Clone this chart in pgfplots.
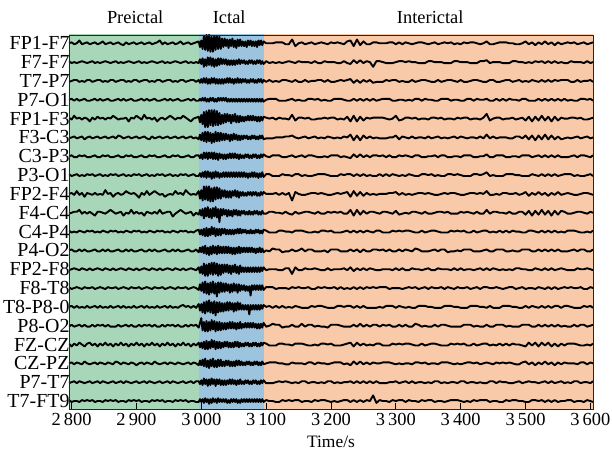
\documentclass[border=0pt]{standalone}
\usepackage{pgfplots}
\pgfplotsset{compat=1.18}
\usepackage{pgfplotstable}
\usepackage{fontspec}
\setmainfont{Liberation Serif}
\definecolor{preC}{RGB}{168,214,184}
\definecolor{ictC}{RGB}{157,196,222}
\definecolor{intC}{RGB}{248,202,170}

\pgfplotstableread{
t c1 c2 c3 c4 c5 c6 c7 c8 c9 c10 c11 c12 c13 c14 c15 c16 c17 c18 c19 c20
2796 0 1 -1 0 1 -1 0 1 0 -1 1 0 -1 1 0 -1 1 0 -1 1
2800 1 -1 0 1 -1 0 1 -1 1 0 -1 1 0 -1 1 1 -2 1 0 -1
2804 -1 0 1 -1 3 1 -1 0 -1 1 0 -1 1 0 -1 -1 1 -1 1 0
2808 0 -1 1 1 0 -1 -1 1 3 1 -1 -1 0 1 1 0 -1 1 -1 0
2812 3 0 -1 -1 1 0 1 -1 -1 3 1 1 -1 0 -1 1 2 0 1 -1
2816 -1 1 0 0 -1 1 0 0 1 -1 0 -1 1 -1 0 -1 0 -1 0 1
2820 0 0 -1 1 1 -2 1 -1 -3 1 -1 1 0 1 -1 1 -2 2 -1 0
2824 1 -1 1 -1 0 0 -1 1 1 -1 1 -1 -1 0 1 -1 1 0 0 1
2828 -1 0 1 -1 -3 1 -1 0 0 1 0 -1 1 0 -1 -1 2 -1 1 0
2832 0 1 -1 0 1 -1 0 1 -1 -1 1 0 -1 1 0 1 -1 0 -1 1
2836 1 -1 0 1 -1 0 1 -1 1 -3 -1 1 0 -1 1 -1 1 1 0 -1
2840 -1 0 1 -1 2 1 -1 0 -1 1 0 -1 1 0 -1 1 -2 -1 1 0
2844 0 -1 1 1 0 -1 -1 1 0 1 -1 -1 0 1 1 0 1 1 -1 0
2848 2 0 -1 -1 1 0 1 -1 -1 0 1 1 -1 0 -1 1 -1 0 1 -1
2852 -1 1 0 0 -1 1 0 0 4 -1 0 -1 1 -1 0 -1 2 -1 0 1
2856 0 0 -1 1 1 -1 1 -1 0 1 -1 1 0 1 -1 1 -1 1 -1 0
2860 1 -1 1 -1 0 0 -1 1 1 3 1 -1 -1 0 1 -1 1 0 0 1
2864 -1 0 1 -1 3 1 -1 0 -3 1 0 -1 1 0 -1 -1 -2 -1 1 0
2868 0 1 -1 0 1 -1 0 1 0 -1 1 0 -1 1 0 -1 1 2 -1 1
2872 1 -1 0 1 -1 2 1 -1 1 0 -1 1 0 -1 1 1 -1 1 0 -1
2876 -1 0 1 -1 0 1 -1 0 -1 1 0 -1 1 0 -1 -1 2 -1 1 0
2880 -2 -1 1 1 0 -1 -1 1 0 -3 -1 -1 0 1 1 0 -1 1 -1 0
2884 1 0 -1 -1 1 0 1 -1 3 0 1 1 -1 0 -1 1 1 0 1 -1
2888 -1 1 0 0 -3 1 0 0 1 -1 0 -1 1 -1 0 -1 -2 -1 0 1
2892 0 0 -1 1 1 -1 1 -1 0 3 -1 1 0 1 -1 1 1 1 -1 0
2896 1 -1 1 -1 0 0 -1 1 1 -1 1 -1 -1 0 1 -1 -1 0 0 1
2900 -1 0 1 -1 3 1 -1 0 -1 1 0 -1 1 0 -1 -1 2 -2 1 0
2904 0 1 -1 0 1 -1 0 1 -4 -1 1 0 -1 1 0 1 -1 0 -1 1
2908 1 -1 0 1 -1 0 1 -1 1 0 -1 1 0 -1 1 -1 1 1 0 -1
2912 -1 0 1 -1 4 1 -1 0 -1 -3 0 -1 1 0 -1 1 -2 -1 1 0
2916 0 -1 1 1 0 -1 -1 1 3 1 -1 -1 0 1 1 0 1 1 -1 0
2920 1 0 -1 -1 1 -2 1 -1 -1 0 1 1 -1 0 -1 1 -1 0 1 -1
2924 -1 1 0 0 -1 1 0 0 1 -1 0 -1 1 -1 0 -1 2 -1 0 1
2928 0 0 -1 1 1 -1 1 -1 3 1 -1 1 0 1 -1 1 -1 2 -1 0
2932 1 -1 1 -1 -3 0 -1 1 1 -1 1 -1 -1 0 1 -1 1 0 0 1
2936 3 0 1 -1 0 1 -1 0 -1 3 0 -1 1 0 -1 -1 -2 -1 1 0
2940 -1 1 -1 0 1 -1 0 1 0 -1 1 0 -1 1 0 1 1 0 -1 1
2944 1 -1 0 1 -1 0 1 -1 -3 0 -1 1 0 -1 1 -1 -1 1 0 -1
2948 -1 0 1 -1 1 1 -1 0 -1 1 0 -1 1 0 -1 1 2 -1 1 0
2952 0 -1 1 1 3 -1 -1 1 0 1 -1 -1 0 1 1 0 -1 1 -1 0
2956 1 0 -1 -1 1 0 1 -1 -1 -4 1 1 -1 0 -1 1 1 0 1 -1
2960 -1 1 0 0 -1 1 0 0 3 -1 0 -1 1 -1 0 -1 -2 -1 0 1
2964 0 0 -1 1 1 -1 1 -1 0 1 -1 1 0 1 -1 1 1 1 -1 0
2968 2 -1 1 -1 0 0 -1 1 1 3 1 -1 -1 0 1 -1 -1 0 0 1
2972 -1 0 1 -1 3 1 -1 0 -1 1 0 -1 1 0 2 -1 2 -1 1 0
2976 0 1 -1 0 1 -1 0 1 4 -1 1 0 -1 1 0 1 -1 0 -1 1
2980 1 -1 0 1 -1 0 1 -1 1 0 -1 1 0 -1 1 -1 1 1 0 -1
2984 -1 0 1 -1 -3 1 -1 0 -1 1 0 -1 1 0 -1 1 -2 -1 1 0
2988 0 -1 1 1 0 -1 -1 1 0 -3 -1 -1 0 1 1 0 1 1 -1 0
2992 1 0 -1 -1 1 0 1 -1 -1 0 1 1 -1 0 -1 1 -1 0 1 -1
2996 2 -1 1 -1 2 -2 1 -1 3 -2 2 -2 2 -2 3 -2 2 -2 1 -1
2998 -4 3 -2 1 -4 3 -2 2 -5 3 -3 3 -4 4 -4 3 -3 3 -2 2
3000 3 -2 2 -1 4 -3 2 -2 4 -3 2 -2 3 -3 3 8 2 -2 2 -1
3002 -6 4 -2 2 -6 5 -3 3 -7 4 -4 4 -5 6 -6 -5 -4 4 -3 2
3004 8 -5 3 -1 7 -4 4 -2 8 -6 3 -3 6 -5 5 4 3 -3 4 -2
3006 -7 3 -2 2 -9 6 -2 4 -6 5 -5 5 -7 7 -7 -6 -5 5 -2 3
3008 9 -4 3 -2 8 -5 4 -3 8 -4 4 -4 5 -6 6 5 4 -4 3 -1
3010 -8 5 -3 1 -9 6 -3 4 -7 6 -5 3 -7 5 -5 -6 -5 3 -4 2
3012 9 -3 2 -2 9 -4 4 -2 8 -5 3 -5 6 -7 7 4 3 -5 3 -3
3014 -9 5 -3 2 -7 5 -2 3 -8 4 -4 4 -5 6 -6 -5 -4 4 -3 2
3016 7 -4 3 -1 9 -6 4 -4 6 -6 5 -4 7 -5 5 6 5 -3 4 -2
3018 -9 4 -2 2 -8 4 -3 3 -8 5 -3 5 -6 7 -7 -4 -3 5 -2 3
3020 8 -5 3 -2 9 -5 4 -3 7 -4 4 -3 7 -6 6 5 4 -4 3 -1
3022 -7 3 -3 1 -7 6 -3 4 -6 6 -5 4 -5 5 -9 -6 -5 3 -4 2
3024 8 -4 2 -2 8 -4 3 -2 7 -5 3 -4 6 -9 5 4 3 -4 3 -2
3026 -6 4 -3 2 -7 5 -4 3 -5 4 -4 5 -7 6 -6 -5 -4 4 -2 3
3028 7 -3 2 -1 6 -4 3 -3 6 -10 3 -3 5 -5 5 4 3 -3 3 -1
3030 -6 4 -3 2 -6 5 -2 2 -5 4 -4 4 -6 6 -5 -5 -4 4 -3 2
3032 5 -2 2 -1 4 -3 2 -2 4 -3 3 -3 5 -4 4 3 2 -3 2 -1
3034 -4 3 -3 2 -5 4 -3 3 -3 4 -2 4 -4 5 -5 -4 -3 2 -3 2
3036 5 -2 2 -1 5 -3 2 -2 4 -2 3 -3 5 -4 4 3 3 -3 2 -1
3038 -3 3 -2 2 -4 4 -3 3 -4 3 -3 4 -3 5 -4 -4 -2 3 -3 2
3040 4 -3 3 -2 5 -2 2 -2 3 -4 2 -3 5 -3 5 3 3 -2 2 -2
3042 -5 2 -2 1 -3 3 -2 3 -4 3 -3 4 -4 4 -4 -3 -3 3 -2 1
3044 4 -3 3 -2 4 -4 3 -2 3 -3 2 -3 4 -5 5 4 2 -3 3 -2
3046 -3 2 -2 1 -5 3 -2 3 -4 2 -3 3 -5 4 -3 -3 -3 2 -2 2
3048 5 -3 2 -2 4 -3 3 -2 3 -4 2 -4 4 -4 4 4 2 -3 3 -1
3050 -4 2 -3 1 -3 4 -2 3 -2 3 -3 3 -3 5 -5 -3 -3 2 -2 2
3052 3 -3 2 -2 5 -2 3 -2 4 -2 2 -4 5 -3 4 3 3 -3 2 -1
3054 -5 2 -2 1 -4 3 -2 3 -3 3 -2 3 -4 4 -4 -4 -2 3 -3 2
3056 4 -2 3 -2 3 -3 2 -2 3 -3 3 -3 3 -5 5 3 3 -2 2 -2
3058 -3 3 -2 1 -4 2 -3 3 -4 2 -2 4 -5 4 -3 -3 -3 3 -2 1
3060 4 -2 2 -2 3 -3 2 -2 2 -3 3 -3 4 -3 4 4 2 -2 3 -2
3062 -3 2 -2 1 -3 2 -2 3 -2 2 -2 3 -3 3 -3 -3 -2 2 -2 2
3064 2 -1 2 -2 2 -2 1 -2 2 -1 2 -2 2 -2 2 2 1 -2 1 -1
3066 -3 2 -1 1 -3 2 -2 3 -2 2 -1 3 -3 3 -3 -2 -2 1 -2 2
3068 2 -2 2 -2 2 -1 2 -2 1 -2 2 -2 2 -3 2 3 2 -2 2 -1
3070 -4 1 -2 1 -2 2 -1 2 -2 1 -2 3 -3 2 -3 -2 -1 2 -1 2
3072 3 -2 1 -2 3 -2 2 -3 2 -2 1 -2 2 -3 2 3 2 -1 2 -1
3074 -2 2 -2 1 -2 1 -2 2 -1 2 -2 3 -3 2 -8 -2 -2 2 -2 2
3076 3 -1 2 -2 3 -2 1 -2 2 -2 2 -2 2 -8 2 3 1 -2 1 -1
3078 -3 2 -1 1 -2 2 -2 3 -2 1 -2 3 -3 3 -3 -2 -2 1 -2 2
3080 2 -2 2 -2 3 -1 2 -2 2 -2 1 -2 2 -2 2 3 2 -2 2 -1
3082 -3 1 -2 1 -2 2 -1 3 -1 2 -2 2 -3 3 -3 -2 -1 2 -1 2
3084 2 -2 1 -2 2 -2 2 -2 2 -1 2 -3 2 -2 2 2 2 -1 2 -1
3086 -4 2 -2 1 -3 1 -2 2 -2 2 -1 2 -3 3 -3 -3 -2 2 -2 2
3088 3 -1 2 -2 2 -2 1 -3 1 -2 2 -2 2 -2 2 2 1 -2 1 -1
3090 -2 2 -1 1 -3 2 -2 2 -2 1 -2 3 -3 3 -3 -3 -2 1 -2 2
3092 3 -2 2 -2 2 -1 2 -2 2 -2 1 -2 2 -2 2 2 2 -2 2 -1
3094 -2 1 -2 1 -2 2 -1 3 -1 2 -2 2 -2 3 -2 -2 -1 2 -1 2
3096 2 -2 1 -2 2 -2 2 -2 2 -1 2 -2 2 -2 2 3 2 -1 2 -1
3100 0 1 -1 0 1 -1 0 1 0 -1 1 0 -1 1 0 -1 1 0 -1 1
3105 0 -1 1 1 0 -1 -1 1 0 1 -1 -1 0 1 1 0 -1 1 -1 0
3110 0 0 -1 1 1 -1 1 -1 0 1 -1 2 0 1 -1 2 -1 1 -1 0
3115 1 -1 0 1 -1 0 1 -1 1 0 -1 1 0 -1 1 1 -1 1 0 -1
3120 1 0 -1 -1 1 0 1 -1 -1 0 1 1 -1 0 -1 1 1 0 1 -1
3125 1 -1 1 -1 0 0 -1 1 1 -1 1 -2 -1 0 1 -2 1 0 0 1
3130 -1 0 1 -1 0 1 -1 0 -1 1 0 -1 1 0 -1 -1 0 -1 1 0
3135 -1 1 0 0 -1 1 0 0 1 -1 0 -1 1 -1 0 -1 0 -1 0 1
3140 4 0 -1 1 4 2 1 -1 -7 -2 -1 1 -5 1 -1 1 -1 1 -1 0
3145 -3 -1 1 -1 -2 0 -1 1 2 1 1 -1 2 0 1 -1 1 0 0 1
3150 0 1 -1 0 1 -1 0 1 0 -1 1 0 -1 1 0 -1 1 0 -1 1
3155 1 0 -1 -1 1 0 1 -1 -1 0 1 2 -1 0 -1 2 1 0 1 -1
3160 -1 0 1 -1 0 1 -1 0 -1 1 0 -1 1 0 -1 -1 0 -1 1 0
3165 0 0 -1 1 1 -1 1 -1 0 1 -1 1 0 1 -1 1 -1 1 -1 0
3170 1 -1 0 1 -1 0 1 -1 1 0 -1 1 0 -1 1 1 -1 1 0 -1
3175 -1 1 0 0 -1 1 0 0 1 -1 0 -1 1 -1 0 -1 0 -1 0 1
3180 0 -1 1 1 0 -1 -1 1 0 1 -1 -1 0 1 1 0 -1 1 -1 0
3185 1 -1 1 -1 0 0 -1 1 1 -1 1 -1 -1 0 1 -1 1 0 0 1
3190 0 1 -1 0 1 -1 0 1 0 -1 1 0 -1 1 0 -1 1 0 -1 1
3195 -1 0 1 -1 0 1 -1 0 -1 1 0 -2 1 0 -1 -2 0 -1 1 0
3200 1 0 -1 -1 1 0 1 -1 -1 0 1 1 -1 0 -1 1 1 0 1 -1
3205 0 0 -1 1 1 -1 1 -1 0 1 -1 1 0 1 -1 1 -1 1 -1 0
3210 1 -1 0 1 -1 0 1 -1 1 0 -1 1 0 -1 1 1 -1 1 0 -1
3215 0 -1 1 1 0 -1 -1 1 0 1 -1 -1 0 1 1 0 -1 1 -1 0
3220 -1 1 0 0 -1 1 0 0 1 -1 0 -1 1 -1 0 -1 0 -1 0 1
3225 2 -1 1 -1 2 0 -1 1 2 -1 1 -1 -1 0 1 -1 1 0 0 1
3230 3 -2 2 -1 -3 3 -2 1 -3 3 -1 1 2 -1 1 -1 2 -2 1 -1
3235 -3 2 -2 1 3 -3 2 -1 3 -3 1 -1 -2 1 -1 1 -2 2 -1 1
3240 4 -1 1 -1 -3 2 -1 1 -2 3 -1 1 1 -1 1 -1 2 -1 1 -1
3245 -2 2 -2 1 2 -3 2 -1 2 -2 1 -2 -1 1 -1 2 -1 2 -1 1
3250 2 -1 1 -1 -2 2 -1 1 -2 2 -1 1 1 -1 1 -1 1 -1 1 -1
3255 -1 1 -1 1 1 -1 1 -1 1 -1 1 -1 -1 1 -1 1 -1 1 -1 1
3260 -1 0 1 -1 0 1 -1 0 -1 1 0 -1 1 0 -1 -1 0 -1 1 0
3265 1 -5 -2 1 1 -1 1 -1 0 1 -1 1 0 1 -1 1 -1 1 -1 6
3270 1 1 -1 -1 1 0 1 -1 -1 0 1 1 -1 0 -1 1 1 0 1 -2
3275 0 1 -1 0 1 -1 0 1 0 -1 1 0 -1 1 0 -1 1 0 -1 1
3280 0 0 -1 1 1 -1 1 -1 0 1 -1 1 0 1 -1 1 -1 1 -1 0
3285 0 -1 1 1 0 -1 -1 1 0 1 -1 -1 0 1 1 0 -1 1 -1 0
3290 1 -1 0 1 -1 0 1 -1 1 0 -1 1 0 -1 1 1 -1 1 0 -1
3295 1 -1 1 -1 0 0 -1 1 1 -1 1 -1 -1 0 1 -1 1 0 0 1
3300 -1 0 1 -1 3 2 -1 0 2 2 0 -1 1 0 -1 -1 0 -1 1 0
3305 1 1 -1 0 -2 -2 1 -1 -1 -2 1 1 -1 0 1 1 1 0 -1 1
3310 -1 1 0 0 -1 1 0 0 1 -1 0 -1 1 -1 0 -1 0 -1 0 1
3315 1 0 -1 -1 1 0 1 -1 -1 0 1 1 -1 0 -1 1 1 0 1 -1
3320 0 1 -1 0 1 -1 0 1 0 -1 1 0 -1 1 0 -1 1 0 -1 1
3325 -1 0 1 -1 0 1 -1 0 -1 1 0 -1 1 0 -1 -1 0 -1 1 0
3330 0 0 -1 1 1 -1 1 -1 0 1 -1 2 0 1 -1 2 -1 1 -1 0
3335 1 -1 0 1 -1 0 1 -1 1 0 -1 1 0 -1 1 1 -1 1 0 -1
3340 1 -1 1 -1 0 0 -1 1 1 -1 1 -1 -1 0 1 -1 1 0 0 1
3345 0 -1 1 1 0 -1 -1 1 0 1 -1 -1 0 1 1 0 -1 1 -1 0
3350 -1 1 0 0 -1 1 0 0 1 -1 0 -1 1 -1 0 -1 0 -1 0 1
3355 0 1 -1 0 1 -1 0 1 0 -1 1 0 -1 1 0 -1 1 0 -1 1
3360 1 0 -1 -1 1 0 1 -1 -1 0 1 1 -1 0 -1 1 1 0 1 -1
3365 -1 0 1 -1 0 1 -1 0 -1 1 0 -1 1 0 -1 -1 0 -1 1 0
3370 0 0 -1 1 1 -1 1 -1 0 1 -1 1 0 1 -1 1 -1 1 -1 0
3375 1 -1 0 1 -1 0 1 -1 1 0 -1 1 0 -1 1 1 -1 1 0 -1
3380 0 -1 1 1 0 -1 -1 1 0 1 -1 -2 0 1 1 0 -1 1 -1 0
3385 1 -1 1 -1 0 0 -1 1 1 -1 1 -1 -1 0 1 -1 1 0 0 1
3390 -1 1 0 0 -1 1 0 0 1 -1 0 -1 1 -1 0 -1 0 -1 0 1
3395 0 1 -1 0 1 -1 0 1 0 -1 1 0 -1 1 0 -1 1 0 -1 1
3400 -1 0 1 -1 0 1 -1 0 -1 1 0 -1 1 0 -1 -1 0 -1 1 0
3405 1 0 -1 -1 1 0 1 -1 -1 0 1 1 -1 0 -1 1 1 0 1 -1
3410 0 0 -1 1 1 -1 1 -1 0 1 -1 1 0 1 -1 1 -1 1 -1 0
3415 1 -1 0 1 -1 0 1 -1 1 0 -1 1 0 -1 1 1 -1 1 0 -1
3420 1 -1 1 -1 0 0 -1 1 1 -1 1 -1 -1 0 1 -1 1 0 0 1
3425 0 -1 1 1 0 -1 -1 1 0 1 -1 -1 0 1 1 0 -1 1 -1 0
3430 -1 1 0 0 -1 1 0 0 1 -1 0 -1 1 -1 0 -1 0 -1 0 1
3435 0 1 -1 0 1 -1 0 1 0 -1 1 0 -1 1 0 -1 1 0 -1 1
3440 2 2 -1 1 5 3 2 3 3 3 1 1 1 1 -1 1 1 1 -1 1
3445 -1 -1 1 -1 -2 -1 -1 -1 -1 -1 -1 -1 -1 0 1 -1 -1 0 1 -1
3450 -1 0 1 -1 0 1 -1 0 -1 1 0 -1 1 0 -1 -1 0 -1 1 0
3455 0 0 -1 1 1 -1 1 -1 0 1 -1 1 0 1 -1 1 -1 1 -1 0
3460 1 0 -1 -1 1 0 1 -1 -1 0 1 1 -1 0 -1 1 1 0 1 -1
3465 1 -1 0 1 -1 0 1 -1 1 0 -1 1 0 -1 1 1 -1 1 0 -1
3470 1 -1 1 -1 0 0 -1 1 1 -1 1 -1 -1 0 1 -1 1 0 0 1
3475 0 -1 1 1 0 -1 -1 1 0 1 -1 -1 0 1 1 0 -1 1 -1 0
3480 0 1 -1 0 1 -1 0 1 0 -1 1 0 -1 1 0 -1 1 0 -1 1
3485 -1 1 0 0 -1 1 0 0 1 -1 0 -1 1 -1 0 -1 0 -1 0 1
3490 -1 0 1 -1 0 1 -1 0 -1 1 0 -1 1 0 -1 -1 0 -1 1 0
3495 0 0 -1 1 1 -1 1 -1 0 1 -1 1 0 1 -1 1 -1 1 -1 0
3500 2 -1 0 1 -2 2 1 -1 2 -2 -1 1 0 -1 1 1 -2 2 0 -1
3505 -1 0 -1 -1 2 -2 1 -1 -2 2 1 1 -1 0 -1 1 2 -1 1 -1
3510 1 -1 1 -1 -3 2 -1 1 1 -3 1 -1 -1 0 1 -1 -1 1 0 1
3515 -2 1 0 -1 2 -3 0 0 -1 2 0 -1 1 -1 0 -1 2 -2 0 1
3520 1 0 -1 1 -2 2 1 -1 2 -2 -1 1 0 1 -1 1 -2 1 -1 0
3525 -1 1 1 -1 3 -2 -1 1 -1 3 1 -1 -1 0 1 -1 2 -1 0 1
3530 2 -1 -1 1 -2 3 1 -1 1 -2 -1 1 1 -1 -1 1 -1 2 1 -1
3535 -1 1 1 -1 2 -2 -1 1 -2 2 1 -1 -1 1 1 -1 2 -1 -1 1
3540 1 -1 -1 1 -3 2 1 -1 1 -3 -1 1 1 -1 -1 1 -2 1 1 -1
3545 -2 1 1 -1 2 -2 -1 1 -1 2 1 -1 -1 1 1 -1 1 -2 -1 1
3550 1 -1 0 1 -2 1 1 -1 2 -2 -1 1 0 -1 1 1 -2 1 0 -1
3555 -1 0 1 -1 1 -2 -1 0 -1 2 0 -1 1 0 -1 -1 1 -1 1 0
3560 0 -1 1 1 0 -1 -1 1 0 1 -1 -1 0 1 1 0 -1 1 -1 0
3565 1 -1 1 -1 0 0 -1 1 1 -1 1 -1 -1 0 1 -1 1 0 0 1
3570 0 1 -1 0 1 -1 0 1 0 -1 1 0 -1 1 0 -1 1 0 -1 1
3575 1 0 -1 -1 1 0 1 -1 -1 0 1 1 -1 0 -1 1 1 0 1 -1
3580 -1 0 1 -1 0 1 -1 0 -1 1 0 -1 1 0 -1 -1 0 -1 1 0
3585 0 0 -1 1 1 -1 1 -1 0 1 -1 1 0 1 -1 1 -1 1 -1 0
3590 1 -1 0 1 -1 0 1 -1 1 0 -1 1 0 -1 1 1 -1 1 0 -1
3595 -1 1 0 0 -1 1 0 0 1 -1 0 -1 1 -1 0 -1 0 -1 0 1
3600 0 -1 1 1 0 -1 -1 1 0 1 -1 -1 0 1 1 0 -1 1 -1 0
3604 1 0 -1 -1 1 0 1 -1 -1 0 1 1 -1 0 -1 1 1 0 1 -1
}\eeg

\begin{document}
\begin{tikzpicture}
\begin{axis}[
  at={(0,0)}, anchor=south west,
  scale only axis, width=524bp, height=374.5bp,
  xmin=2796, xmax=3604, ymin=0.55, ymax=20.44,
  clip mode=individual, axis on top,
  xtick={2800,2900,...,3600}, xtick pos=left, tick align=inside,
  major tick length=6bp,
  ytick={1,...,20}, ytick style={draw=none}, ytick pos=left,
  yticklabels={T7-FT9,P7-T7,CZ-PZ,FZ-CZ,P8-O2,T8-P8-0,F8-T8,FP2-F8,P4-O2,C4-P4,F4-C4,FP2-F4,P3-O1,C3-P3,F3-C3,FP1-F3,P7-O1,T7-P7,F7-F7,FP1-F7},
  /pgf/number format/assume math mode=true,
  /pgf/number format/1000 sep={\,},
  xticklabel style={font=\fontsize{18.5}{18.5}\selectfont},
  yticklabel style={font=\fontsize{20}{20}\selectfont, xshift=4bp},
  xlabel={Time/s},
  xlabel style={font=\fontsize{17.5}{17.5}\selectfont, at={(axis description cs:0.5,0)}, anchor=base, yshift=-38bp},
  axis line style={line width=0.9bp, black!85},
  tick style={line width=0.8bp, black},
]
\addplot[draw=none, fill=preC] coordinates {(2790,0) (2997,0) (2997,21) (2790,21)} -- cycle;
\addplot[draw=none, fill=ictC] coordinates {(2997,0) (3097,0) (3097,21) (2997,21)} -- cycle;
\addplot[draw=none, fill=intC] coordinates {(3097,0) (3610,0) (3610,21) (3097,21)} -- cycle;
\pgfplotsinvokeforeach{1,...,20}{
  \addplot[black, line width=1.9bp, line join=round, no markers]
    table[x=t, y expr={21-#1+0.05*\thisrow{c#1}}] {\eeg};
}
\node[anchor=base, font=\fontsize{18.5}{18.5}\selectfont] at ([yshift=11bp]axis cs:2898,20.44) {Preictal};
\node[anchor=base, font=\fontsize{18.5}{18.5}\selectfont] at ([yshift=11bp]axis cs:3043,20.44) {Ictal};
\node[anchor=base, font=\fontsize{18.5}{18.5}\selectfont] at ([yshift=11bp]axis cs:3353,20.44) {Interictal};
\end{axis}
\pgfresetboundingbox
\useasboundingbox (-69bp,-42.5bp) rectangle (543bp,409.5bp);
\end{tikzpicture}
\end{document}
